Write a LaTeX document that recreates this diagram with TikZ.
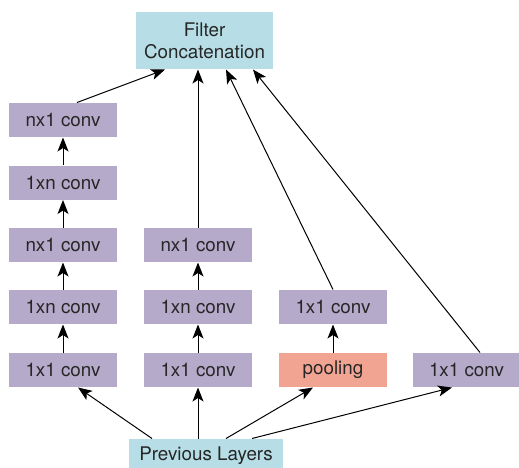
\documentclass[tikz,border=0pt]{standalone}
\usepackage{fontspec}
\setmainfont{TeX Gyre Heros}
\usetikzlibrary{arrows.meta}
\definecolor{convcol}{RGB}{182,170,202}
\definecolor{concatcol}{RGB}{183,222,230}
\definecolor{poolcol}{RGB}{242,164,146}

\begin{document}
\begin{tikzpicture}[x=1pt, y=-1pt,
    conv/.style={fill=convcol, minimum width=108pt, minimum height=34pt, inner sep=0pt},
    pool/.style={fill=poolcol, minimum width=108pt, minimum height=34pt, inner sep=0pt},
    concat/.style={fill=concatcol, minimum width=137pt, minimum height=57pt, inner sep=0pt, align=center},
    prevbox/.style={fill=concatcol, minimum width=154pt, minimum height=34pt, inner sep=0pt},
    every node/.style={font=\fontsize{18.8}{22}\selectfont, text=black!85},
    >={Stealth[length=14pt, width=11pt, inset=3.5pt]}, line width=1pt]
    \path[use as bounding box, clip] (0, 0) rectangle (519, 467);

    \node[concat] (concat) at (204.5, 40.5) {Filter\\Concatenation};

    \node[conv] (a1) at (63, 120) {nx1 conv};
    \node[conv] (a2) at (63, 182.5) {1xn conv};
    \node[conv] (a3) at (63, 245) {nx1 conv};
    \node[conv] (a4) at (63, 307) {1xn conv};
    \node[conv] (a5) at (63, 370) {1x1 conv};

    \node[conv] (b3) at (198, 245) {nx1 conv};
    \node[conv] (b4) at (198, 307) {1xn conv};
    \node[conv] (b5) at (198, 370) {1x1 conv};

    \node[conv] (c4) at (333, 307) {1x1 conv};
    \node[pool] (pool) at (333, 370) {pooling};

    \node[conv] (d5) at (466.5, 370) {1x1 conv};

    \node[prevbox] (prev) at (206, 456) {Previous Layers};

    \draw[->] ([xshift=-54pt]prev.north) to ([xshift=15pt]a5.south);
    \draw[->] ([xshift=-8pt]prev.north) to (b5.south);
    \draw[->] ([xshift=20pt]prev.north) to ([xshift=-20pt]pool.south);
    \draw[->] ([xshift=46pt]prev.north) to ([xshift=-14.5pt]d5.south);

    \draw[->] (a5) to (a4);
    \draw[->] (a4) to (a3);
    \draw[->] (a3) to (a2);
    \draw[->] (a2) to (a1);
    \draw[->] (b5) to (b4);
    \draw[->] (b4) to (b3);
    \draw[->] (pool) to (c4);

    \draw[->] ([xshift=14pt]a1.north) to ([xshift=-39.5pt]concat.south);
    \draw[->] (b3.north) to ([xshift=-6.5pt]concat.south);
    \draw[->] (c4.north) to ([xshift=21.5pt]concat.south);
    \draw[->] ([xshift=13.5pt]d5.north) to ([xshift=48.5pt]concat.south);
\end{tikzpicture}
\end{document}
